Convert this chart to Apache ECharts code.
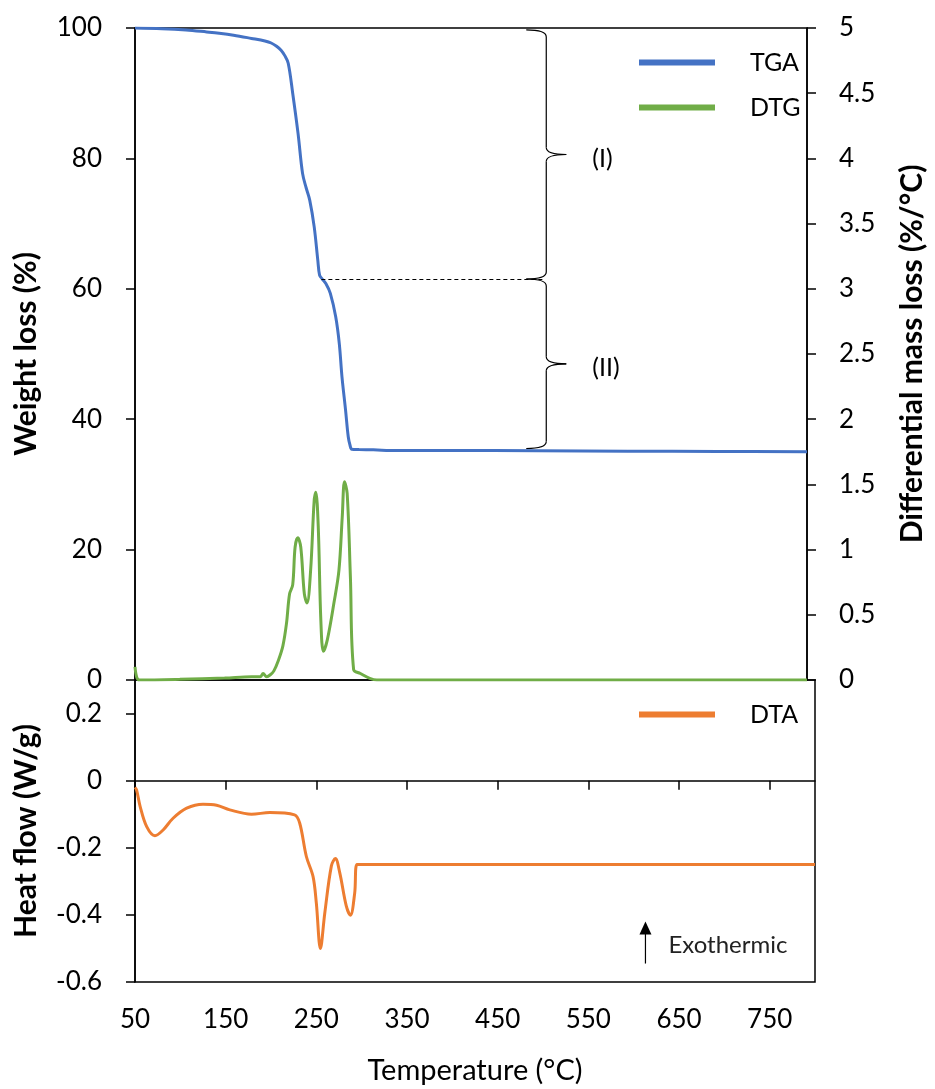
<!DOCTYPE html>
<html>
<head>
<meta charset="utf-8">
<script src="https://cdn.jsdelivr.net/npm/echarts@6/dist/echarts.min.js"></script>
<style>
  html, body { margin: 0; padding: 0; background: #fff; }
  #chart { width: 935px; height: 1089px; }
</style>
</head>
<body>
<div id="chart"></div>
<script>
// ---- Thermogravimetric data (temperature in °C) ----
const tgaTemp   = [50, 80, 107, 130, 144, 160, 180, 195, 202, 208, 213, 217, 221, 226, 232, 237, 241, 245, 250, 254, 256, 259, 263, 268, 274, 278, 281, 285, 288, 290, 292, 300, 316, 342, 400, 500, 600, 700, 800];
const tgaWeight = [100, 99.9, 99.7, 99.4, 99.2, 98.9, 98.4, 98.0, 97.7, 97.2, 96.6, 95.8, 94.6, 90.0, 83.8, 77.7, 75.5, 73.6, 69.5, 64.4, 62.1, 61.5, 60.8, 59.3, 55.7, 51.6, 46.5, 41.4, 37.3, 36.0, 35.4, 35.35, 35.3, 35.2, 35.2, 35.15, 35.1, 35.05, 35.0];

const dtgTemp  = [50, 52, 55, 100, 150, 180, 190, 193, 197, 201, 205, 210, 215, 219, 222.5, 226, 228.7, 231.7, 235, 239, 242, 246, 250, 251.8, 254.5, 257.4, 260.3, 264.7, 272, 277.6, 281.3, 283.8, 286.8, 290.4, 294, 301.5, 312, 320, 400, 500, 600, 700, 800];
const dtgValue = [0.1, 0.02, 0, 0.005, 0.015, 0.025, 0.025, 0.05, 0.025, 0.04, 0.07, 0.15, 0.26, 0.43, 0.66, 0.73, 1.02, 1.09, 1.02, 0.66, 0.59, 0.84, 1.38, 1.44, 1.18, 0.46, 0.22, 0.31, 0.59, 0.84, 1.25, 1.52, 1.43, 0.79, 0.08, 0.05, 0.013, 0, 0, 0, 0, 0, 0];

const dtaTemp  = [50, 51.8, 55.5, 62.9, 72, 81, 92, 107, 125, 140, 154.6, 178.5, 198.7, 226, 231.7, 239, 246.4, 250, 254.5, 259.3, 266.6, 271, 275.8, 283, 287.6, 292.3, 294.9, 320, 400, 500, 600, 700, 800];
const dtaValue = [-0.02, -0.028, -0.075, -0.137, -0.164, -0.147, -0.112, -0.082, -0.07, -0.073, -0.087, -0.1, -0.095, -0.102, -0.127, -0.226, -0.286, -0.365, -0.5, -0.395, -0.254, -0.232, -0.274, -0.373, -0.401, -0.335, -0.25, -0.25, -0.25, -0.25, -0.25, -0.25, -0.25];

// ---- Axis ticks ----
const tempTicks = [50, 150, 250, 350, 450, 550, 650, 750];
const heatTicks = [-0.6, -0.4, -0.2, 0, 0.2];

// ---- Decomposition stages (weight %, bracket position in °C) ----
const stageBounds = [99.7, 61.5, 35.5];
const stageLabels = ['(I)', '(II)'];
const bracketTemp = 509;
const stageLineStart = 258;

const FONT = 'Lato';
const BLACK = '#000';

const zip = (xs, ys) => xs.map((x, i) => [x, ys[i]]);

const chart = echarts.init(document.getElementById('chart'), null, { renderer: 'canvas' });

const frame = { show: true, borderColor: BLACK, borderWidth: 1.5, backgroundColor: 'transparent' };
const tickStyle = { show: true, inside: false, length: 9, lineStyle: { color: BLACK, width: 1.5 } };
const labelStyle = { color: BLACK, fontFamily: FONT, fontSize: 26 };
const titleStyle = { color: BLACK, fontFamily: FONT, fontSize: 30, fontWeight: 'bold' };
const legendText = { color: BLACK, fontFamily: FONT, fontSize: 25, lineHeight: 24, padding: [0, 0, 0, 30] };

const option = {
  animation: false,
  backgroundColor: '#fff',
  grid: [
    Object.assign({ left: 135, right: 120, top: 28, height: 652 }, frame),
    Object.assign({ left: 135, right: 120, top: 680, height: 302 }, frame)
  ],
  legend: [
    {
      data: ['TGA', 'DTG'], orient: 'vertical', left: 634, top: 45,
      icon: 'rect', itemWidth: 76, itemHeight: 6, itemGap: 20, selectedMode: false,
      textStyle: legendText
    },
    {
      data: ['DTA'], orient: 'vertical', left: 634, top: 697,
      icon: 'rect', itemWidth: 76, itemHeight: 6, selectedMode: false,
      textStyle: legendText
    }
  ],
  xAxis: [
    {
      type: 'value', gridIndex: 0, min: 50, max: 800, interval: 100,
      axisLine: { show: false }, axisTick: { show: false }, axisLabel: { show: false }, splitLine: { show: false }
    },
    {
      type: 'value', gridIndex: 1, min: 50, max: 800, interval: 100,
      axisLine: { show: true, lineStyle: { color: BLACK, width: 1.5 } },
      axisTick: Object.assign({}, tickStyle, { customValues: tempTicks }),
      axisLabel: Object.assign({}, labelStyle, { customValues: tempTicks, margin: 25 }),
      splitLine: { show: false },
      name: 'Temperature (°C)', nameLocation: 'middle', nameGap: 74,
      nameTextStyle: { color: BLACK, fontFamily: FONT, fontSize: 29 }
    }
  ],
  yAxis: [
    {
      type: 'value', gridIndex: 0, position: 'left', min: 0, max: 100, interval: 20,
      axisLine: { show: true, lineStyle: { color: BLACK, width: 1.5 } },
      axisTick: tickStyle, axisLabel: Object.assign({}, labelStyle, { margin: 33 }),
      splitLine: { show: false },
      name: 'Weight loss (%)', nameLocation: 'middle', nameGap: 94, nameRotate: 90,
      nameTextStyle: titleStyle
    },
    {
      type: 'value', gridIndex: 0, position: 'right', min: 0, max: 5, interval: 0.5,
      axisLine: { show: true, lineStyle: { color: BLACK, width: 1.5 } },
      axisTick: tickStyle, axisLabel: Object.assign({}, labelStyle, { margin: 32 }),
      splitLine: { show: false },
      name: 'Differential mass loss (%/°C)', nameLocation: 'middle', nameGap: 90, nameRotate: 90,
      nameTextStyle: titleStyle
    },
    {
      type: 'value', gridIndex: 1, position: 'left', min: -0.6, max: 0.3, interval: 0.2,
      axisLine: { show: true, lineStyle: { color: BLACK, width: 1.5 } },
      axisTick: Object.assign({}, tickStyle, { customValues: heatTicks }),
      axisLabel: Object.assign({}, labelStyle, { customValues: heatTicks, margin: 33 }),
      splitLine: { show: false },
      name: 'Heat flow (W/g)', nameLocation: 'middle', nameGap: 94, nameRotate: 90,
      nameTextStyle: titleStyle
    }
  ],
  series: [
    {
      name: 'TGA', type: 'line', xAxisIndex: 0, yAxisIndex: 0,
      data: zip(tgaTemp, tgaWeight), showSymbol: false, smooth: 0.35,
      color: '#4472C4', lineStyle: { width: 3 }, z: 3,
      markLine: {
        silent: true, symbol: ['none', 'none'], label: { show: false },
        lineStyle: { color: BLACK, width: 1, type: [4, 3] },
        data: [[{ coord: [stageLineStart, stageBounds[1]] }, { coord: [bracketTemp - 2, stageBounds[1]] }]]
      }
    },
    {
      name: 'DTG', type: 'line', xAxisIndex: 0, yAxisIndex: 1,
      data: zip(dtgTemp, dtgValue), showSymbol: false, smooth: 0.35,
      color: '#70AD47', lineStyle: { width: 3 }, z: 2
    },
    {
      name: 'DTA', type: 'line', xAxisIndex: 1, yAxisIndex: 2,
      data: zip(dtaTemp, dtaValue), showSymbol: false, smooth: 0.35,
      color: '#ED7D31', lineStyle: { width: 3 }, z: 2
    }
  ]
};

chart.setOption(option);

// ---- Stage brackets, stage labels and the exothermic direction marker ----
const toPx = (seriesIndex, t, v) => chart.convertToPixel({ seriesIndex }, [t, v]);
const ink = { stroke: BLACK, lineWidth: 1.2, fill: null };

// curly brace opening to the left, pointing right at its middle
function brace(x, yTop, yBot) {
  const w = 20, r = 7, ym = (yTop + yBot) / 2;
  const q = (x1, y1, cx, cy, x2, y2) => ({ type: 'bezierCurve', silent: true, shape: { x1, y1, cpx1: cx, cpy1: cy, x2, y2 }, style: ink });
  const l = (x1, y1, x2, y2) => ({ type: 'line', silent: true, shape: { x1, y1, x2, y2 }, style: ink });
  return [
    q(x - w, yTop, x, yTop, x, yTop + r),
    l(x, yTop + r, x, ym - r),
    q(x, ym - r, x, ym, x + w, ym),
    q(x + w, ym, x, ym, x, ym + r),
    l(x, ym + r, x, yBot - r),
    q(x, yBot - r, x, yBot, x - w, yBot)
  ];
}

const elements = [];
for (let i = 0; i < stageLabels.length; i++) {
  const top = toPx(0, bracketTemp, stageBounds[i]);
  const bot = toPx(0, bracketTemp, stageBounds[i + 1]);
  const x = top[0];
  elements.push(...brace(x, top[1], bot[1]));
  elements.push({
    type: 'text', silent: true,
    x: x + 46, y: (top[1] + bot[1]) / 2 + 4,
    style: { text: stageLabels[i], fill: BLACK, font: '25px ' + FONT, align: 'left', verticalAlign: 'middle' }
  });
}

const arrowBase = toPx(2, 613, -0.545);
const arrowTip = toPx(2, 613, -0.42);
elements.push({
  type: 'line', silent: true,
  shape: { x1: arrowBase[0], y1: arrowBase[1], x2: arrowTip[0], y2: arrowTip[1] + 10 },
  style: { stroke: BLACK, lineWidth: 1.2 }
});
elements.push({
  type: 'polygon', silent: true,
  shape: { points: [[arrowTip[0], arrowTip[1]], [arrowTip[0] - 6, arrowTip[1] + 13], [arrowTip[0] + 6, arrowTip[1] + 13]] },
  style: { fill: BLACK }
});
elements.push({
  type: 'text', silent: true,
  x: arrowTip[0] + 23, y: (arrowBase[1] + arrowTip[1]) / 2 + 3,
  style: { text: 'Exothermic', fill: '#222', font: '24px ' + FONT, align: 'left', verticalAlign: 'middle' }
});

chart.setOption({ graphic: { elements } });
</script>
</body>
</html>
